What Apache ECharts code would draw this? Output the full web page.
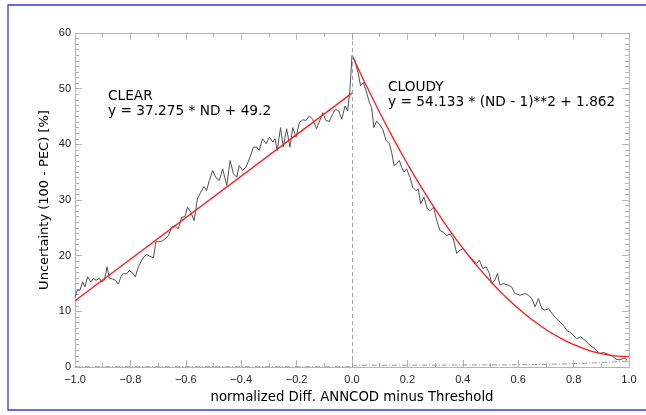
<!DOCTYPE html>
<html><head><meta charset="utf-8">
<script src="https://cdn.jsdelivr.net/npm/echarts@6/dist/echarts.min.js"></script>
<style>html,body{margin:0;padding:0;background:#fff}#c{width:646px;height:415px}</style>
</head><body><div id="c"></div>
<script>
// observed uncertainty (black noisy line)
const obsX = [-1.000,-0.992,-0.982,-0.972,-0.964,-0.954,-0.943,-0.934,-0.924,-0.912,-0.904,-0.894,-0.884,-0.876,-0.864,-0.854,-0.844,-0.834,-0.826,-0.815,-0.804,-0.792,-0.782,-0.771,-0.759,-0.751,-0.742,-0.730,-0.717,-0.708,-0.699,-0.687,-0.675,-0.663,-0.651,-0.639,-0.627,-0.615,-0.603,-0.594,-0.582,-0.570,-0.558,-0.546,-0.534,-0.525,-0.515,-0.503,-0.491,-0.479,-0.467,-0.452,-0.440,-0.428,-0.416,-0.407,-0.395,-0.383,-0.368,-0.356,-0.344,-0.335,-0.323,-0.310,-0.298,-0.286,-0.278,-0.270,-0.258,-0.248,-0.236,-0.224,-0.214,-0.202,-0.190,-0.178,-0.166,-0.154,-0.142,-0.128,-0.116,-0.106,-0.094,-0.082,-0.070,-0.060,-0.048,-0.037,-0.025,-0.016,-0.008,
 0.000,0.011,0.023,0.031,0.041,0.051,0.063,0.071,0.079,0.089,0.099,0.111,0.123,0.135,0.143,0.152,0.161,0.171,0.179,0.188,0.197,0.209,0.219,0.231,0.239,0.248,0.260,0.272,0.282,0.294,0.306,0.318,0.330,0.342,0.354,0.366,0.378,0.390,0.402,0.414,0.426,0.438,0.450,0.460,0.472,0.484,0.496,0.504,0.516,0.525,0.534,0.546,0.564,0.576,0.588,0.607,0.625,0.637,0.649,0.661,0.673,0.685,0.697,0.709,0.727,0.745,0.763,0.775,0.793,0.811,0.826,0.841,0.859,0.877,0.893,0.907,0.925,0.941,0.953,0.967,0.982,0.994];
const obsY = [12.6,13.8,13.8,15.3,14.4,16.2,15.3,15.9,15.6,15.9,15.3,15.6,18.0,15.9,15.8,15.6,14.9,16.2,16.8,16.7,17.3,16.9,16.2,18.0,19.2,19.8,20.2,19.9,19.6,22.5,22.5,22.6,23.0,23.6,25.1,25.4,24.8,26.9,27.0,28.7,27.8,26.3,30.2,31.4,32.4,31.7,33.5,35.3,34.0,33.5,35.6,32.6,37.1,34.7,34.1,36.2,35.3,35.9,37.7,39.5,39.5,38.9,41.0,40.1,41.3,40.4,41.0,38.9,43.0,39.5,42.8,39.5,43.0,41.3,43.9,44.4,44.3,45.1,44.5,42.8,44.3,45.7,44.3,44.1,45.4,46.3,46.0,44.5,46.9,46.0,49.5,
 55.9,55.0,52.6,50.5,51.1,49.6,47.5,46.6,43.0,44.2,43.6,42.7,40.7,40.1,38.6,36.2,36.5,37.1,35.9,35.0,35.6,34.1,32.3,31.7,32.0,29.3,30.5,28.4,28.1,28.7,26.3,24.5,24.2,23.6,23.9,23.0,20.4,21.0,21.3,20.4,19.8,19.2,18.6,19.2,17.7,18.0,16.8,15.0,15.6,16.8,14.7,15.0,14.7,14.4,13.2,12.9,13.2,12.9,12.3,10.8,12.3,10.5,10.2,10.5,9.3,8.4,7.5,6.6,6.0,5.1,5.4,4.8,3.9,3.3,2.4,2.6,2.3,1.9,1.4,1.3,1.6,1.3];
// CLEAR fit (red line, left)
const clearFitX = [-1.0, 0.0];
const clearFitY = [11.9, 49.2];
// CLOUDY fit (red curve, right)
const cloudyFitX = [0,0.05,0.1,0.15,0.2,0.25,0.3,0.35,0.4,0.45,0.5,0.55,0.6,0.65,0.7,0.75,0.8,0.85,0.9,0.95,1.0];
const cloudyFitY = [56.0,50.72,45.71,40.97,36.51,32.31,28.39,24.73,21.35,18.24,15.40,12.82,10.52,8.49,6.73,5.25,4.03,3.08,2.40,2.00,1.86];
// dash-dot baselines
const baseLeftX = [-1.0, 0.0];
const baseLeftY = [0.05, 0.05];
const baseRightX = [0.0, 0.2, 0.4, 0.6, 0.7, 0.8, 0.9, 1.0];
const baseRightY = [0.3, 0.32, 0.36, 0.42, 0.48, 0.6, 0.8, 1.1];

const xLabel = 'normalized Diff. ANNCOD minus Threshold';
const yLabel = 'Uncertainty (100 - PEC) [%]';
const clearText = ['CLEAR', 'y = 37.275 * ND + 49.2'];
const cloudyText = ['CLOUDY', 'y = 54.133 * (ND - 1)**2 + 1.862'];

const zip = (a, b) => a.map((v, i) => [v, b[i]]);
const axisCol = '#b4b4b4';
const fmtX = v => { if (Math.abs(v) < 1e-9) return '0.0'; return v.toFixed(1).replace('-', '\u2212'); };

function xa(pos, labels) {
  return {
    type: 'value', position: pos, min: -1, max: 1, interval: 0.2,
    axisLine: { show: true, onZero: false, lineStyle: { color: axisCol, width: 1 } },
    axisTick: { show: true, inside: true, length: 7, lineStyle: { color: axisCol } },
    minorTick: { show: true, splitNumber: 2, length: 4, lineStyle: { color: axisCol } },
    splitLine: { show: false },
    axisLabel: { show: labels, formatter: fmtX, color: '#222', fontFamily: 'Liberation Sans', fontSize: 11, margin: 7 },
    name: labels ? xLabel : '', nameLocation: 'middle', nameGap: 24, nameMoveOverlap: false,
    nameTextStyle: { fontFamily: 'DejaVu Sans', fontSize: 13.3, color: '#000' }
  };
}
function ya(pos, labels) {
  return {
    type: 'value', position: pos, min: 0, max: 60, interval: 10,
    axisLine: { show: true, onZero: false, lineStyle: { color: axisCol, width: 1 } },
    axisTick: { show: true, inside: true, length: 7, lineStyle: { color: axisCol } },
    minorTick: { show: true, splitNumber: 10, length: 4, lineStyle: { color: axisCol } },
    splitLine: { show: false },
    axisLabel: { show: labels, color: '#222', fontFamily: 'Liberation Sans', fontSize: 11, margin: 4 },
    name: labels ? yLabel : '', nameLocation: 'middle', nameGap: 24, nameRotate: 90, nameMoveOverlap: false,
    nameTextStyle: { fontFamily: 'DejaVu Sans', fontSize: 13, color: '#000' }
  };
}

const chart = echarts.init(document.getElementById('c'), null, { renderer: 'canvas' });
const annoFont = { fontFamily: 'DejaVu Sans', fontSize: 13.7, fill: '#000' };
chart.setOption({
  animation: false,
  backgroundColor: '#fff',
  grid: { left: 75, right: 17, top: 33, bottom: 48, containLabel: false },
  xAxis: [xa('bottom', true), xa('top', false)],
  yAxis: [ya('left', true), ya('right', false)],
  graphic: [
    { type: 'rect', shape: { x: 8, y: 5, width: 700, height: 405 }, style: { fill: 'none', stroke: '#3838e8', lineWidth: 1.3 }, silent: true, z: 100 },
    { type: 'text', left: 108, top: 89, style: Object.assign({ text: clearText[0] }, annoFont) },
    { type: 'text', left: 108, top: 104, style: Object.assign({ text: clearText[1] }, annoFont) },
    { type: 'text', left: 388, top: 80, style: Object.assign({ text: cloudyText[0] }, annoFont) },
    { type: 'text', left: 388, top: 95, style: Object.assign({ text: cloudyText[1] }, annoFont) }
  ],
  series: [
    { type: 'line', data: zip(baseLeftX, baseLeftY), showSymbol: false, lineStyle: { color: '#999', width: 1, type: [5, 2, 1, 2] } },
    { type: 'line', data: zip(baseRightX, baseRightY), showSymbol: false, smooth: true, lineStyle: { color: '#999', width: 1, type: [5, 2, 1, 2] } },
    { type: 'line', data: zip(obsX, obsY), showSymbol: false, lineStyle: { color: '#505050', width: 1 }, z: 3,
      markLine: { silent: true, symbol: 'none', label: { show: false },
        lineStyle: { color: '#a0a0a0', type: [4, 3], width: 1 }, data: [{ xAxis: 0 }] } },
    { type: 'line', data: zip(clearFitX, clearFitY), showSymbol: false, lineStyle: { color: '#ff1a1a', width: 1.3 }, z: 4 },
    { type: 'line', data: zip(cloudyFitX, cloudyFitY), showSymbol: false, smooth: true, lineStyle: { color: '#ff1a1a', width: 1.3 }, z: 4 }
  ]
});
</script></body></html>
